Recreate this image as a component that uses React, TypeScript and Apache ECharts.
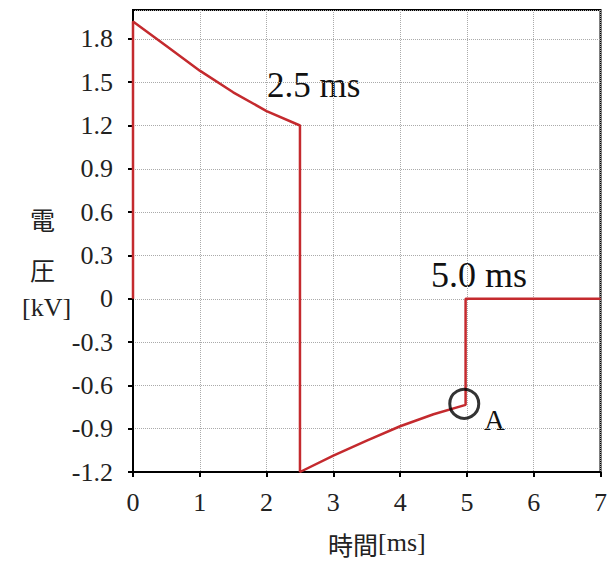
import React, { useEffect, useRef } from "react";
import * as echarts from "echarts";

const timeMs = [0, 0, 0.5, 1, 1.5, 2, 2.5, 2.5, 3, 3.5, 4, 4.5, 4.98, 4.98, 7];
const voltageKV = [0, 1.92, 1.75, 1.58, 1.43, 1.3, 1.2, -1.2, -1.087, -0.983, -0.883, -0.8, -0.735, 0, 0];
const markerA = [4.96, -0.728];
const xTitle = "時間[ms]";
const yTitleLines = ["電", "圧", "[kV]"];
const annotations = ["2.5 ms", "5.0 ms", "A"];

const SERIF = "'Liberation Serif', serif";
const CJK = "'Noto Sans CJK JP', sans-serif";

export default function App() {
  const ref = useRef<HTMLDivElement>(null);
  useEffect(() => {
    if (!ref.current) return;
    const chart = echarts.init(ref.current, null, { renderer: "svg" });
    const lineData = timeMs.map((t, i) => [t, voltageKV[i]]);
    chart.setOption({
      animation: false,
      backgroundColor: "#fff",
      grid: {
        left: 133,
        right: 5,
        top: 10,
        bottom: 90,
        show: true,
        borderColor: "#000",
        borderWidth: 2,
        backgroundColor: "transparent",
      },
      xAxis: {
        type: "value",
        min: 0,
        max: 7,
        interval: 1,
        axisLine: { show: true, onZero: false, lineStyle: { color: "#000", width: 2 } },
        axisTick: { show: true, length: 5, lineStyle: { color: "#000", width: 2 } },
        axisLabel: { color: "#222", fontFamily: SERIF, fontSize: 26, margin: 17 },
        splitLine: { show: true, lineStyle: { color: "#aaa", type: "dotted", width: 1 } },
      },
      yAxis: {
        type: "value",
        min: -1.2,
        max: 2.0,
        interval: 0.3,
        axisLine: { show: true, onZero: false, lineStyle: { color: "#000", width: 2 } },
        axisTick: { show: true, length: 5, lineStyle: { color: "#000", width: 2 } },
        axisLabel: {
          color: "#222",
          fontFamily: SERIF,
          fontSize: 26,
          margin: 20,
          showMaxLabel: false,
          formatter: (v: number) => (Math.abs(v) < 1e-9 ? "0" : v.toFixed(1)),
        },
        splitLine: { show: true, lineStyle: { color: "#aaa", type: "dotted", width: 1 } },
      },
      series: [
        {
          type: "line",
          data: lineData,
          showSymbol: false,
          symbol: "none",
          lineStyle: { color: "#c42a2e", width: 2.5 },
          z: 3,
        },
        {
          type: "scatter",
          data: [markerA],
          symbol: "circle",
          symbolSize: 29,
          itemStyle: { color: "rgba(0,0,0,0)", borderColor: "#000", borderWidth: 3 },
          z: 4,
        },
      ],
      graphic: [
        { type: "text", left: 267, top: 68, style: { text: annotations[0], font: `35px ${SERIF}`, fill: "#111" } },
        { type: "text", left: 431, top: 257, style: { text: annotations[1], font: `36px ${SERIF}`, fill: "#111" } },
        { type: "text", left: 484, top: 405, style: { text: annotations[2], font: `29px ${SERIF}`, fill: "#111" } },
        { type: "text", left: 328, top: 531, style: { text: xTitle.slice(0, 2), font: `25px ${CJK}`, fill: "#222" } },
        { type: "text", left: 378, top: 529, style: { text: xTitle.slice(2), font: `26px ${SERIF}`, fill: "#222" } },
        { type: "text", left: 30, top: 206, style: { text: yTitleLines[0], font: `25px ${CJK}`, fill: "#222" } },
        { type: "text", left: 30, top: 256, style: { text: yTitleLines[1], font: `25px ${CJK}`, fill: "#222" } },
        { type: "text", left: 22, top: 294, style: { text: yTitleLines[2], font: `26px ${SERIF}`, fill: "#222" } },
      ],
    });
    return () => chart.dispose();
  }, []);
  return <div ref={ref} style={{ width: 610, height: 562, position: "absolute", left: 0, top: 0 }} />;
}
